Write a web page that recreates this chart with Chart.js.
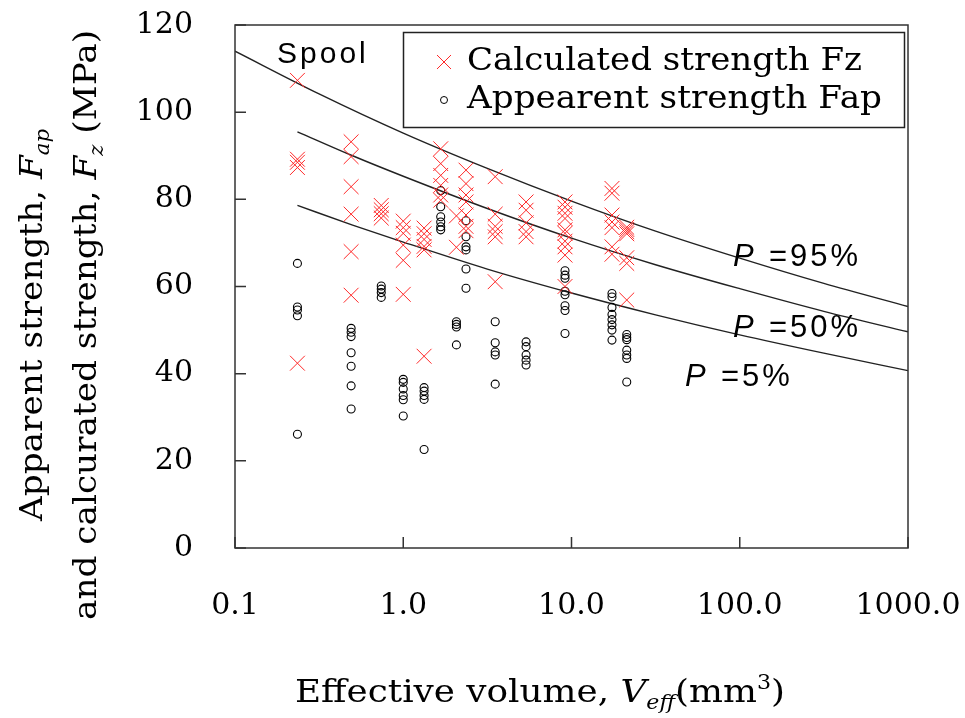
<!DOCTYPE html>
<html lang="en">
<head>
<meta charset="UTF-8">
<title>Strength vs effective volume</title>
<script src="https://cdn.jsdelivr.net/npm/chart.js"></script>
<style>
    html, body { margin: 0; padding: 0; background: #fff; }
    #wrap { width: 965px; height: 718px; }
</style>
</head>
<body>
<div id="wrap"><canvas id="chartCanvas" width="965" height="718"></canvas></div>
<script>
// effective volume of each specimen group (mm3)
const volumes = [0.235, 0.49, 0.74, 1.0, 1.33, 1.67, 2.07, 2.36, 3.52, 5.37, 9.15, 17.4, 21.3];

// calculated strength Fz (MPa), one list per group
const calcStrength = [
    [107.3, 89.2, 88.5, 87.3, 42.4],
    [93.2, 89.8, 82.9, 76.6, 68.0, 58.0],
    [78.6, 77.6, 76.7, 75.7],
    [75.0, 73.5, 72.2, 69.5, 66.0, 58.2],
    [73.4, 72.1, 70.8, 69.2, 68.4, 44.0],
    [91.6, 88.2, 85.5, 83.2, 81.0, 79.8],
    [76.2, 69.0],
    [86.7, 83.6, 81.0, 79.4, 76.4, 73.8, 72.8],
    [85.2, 76.6, 73.8, 72.6, 71.4, 61.1],
    [79.4, 77.5, 74.6, 72.6, 71.4],
    [79.4, 78.2, 76.8, 75.6, 73.0, 72.2, 70.4, 69.1, 67.2, 60.0],
    [82.5, 81.4, 76.4, 74.8, 73.5, 69.1, 67.4],
    [73.6, 73.1, 72.6, 72.1, 66.6, 65.3, 56.9]
];

// apparent strength Fap (MPa), one list per group
const apparentStrength = [
    [65.3, 55.3, 54.6, 53.3, 26.1],
    [50.4, 49.5, 48.5, 44.8, 41.7, 37.2, 31.9],
    [60.1, 59.4, 58.6, 57.5],
    [38.7, 38.0, 36.5, 35.0, 34.0, 30.3],
    [36.8, 36.0, 35.0, 34.1, 22.6],
    [82.0, 78.3, 76.0, 74.8, 73.7, 73.0],
    [51.9, 51.3, 50.7, 46.6],
    [75.1, 71.4, 69.1, 68.4, 64.0, 59.6],
    [51.9, 47.1, 45.0, 44.3, 37.6],
    [47.3, 46.2, 44.3, 43.1, 42.0],
    [63.6, 62.6, 61.9, 58.9, 58.1, 55.6, 54.5, 49.2],
    [58.4, 57.6, 55.2, 53.6, 52.4, 51.2, 50.0, 47.7],
    [49.0, 48.3, 47.8, 45.4, 44.3, 43.5, 38.1]
];

// failure probability lines
const curveVolumes95 = [0.1, 0.316, 1, 3.16, 10, 31.6, 100, 316, 1000];
const curve95 = [114.0, 104.2, 95.2, 87.1, 79.6, 72.7, 66.5, 60.7, 55.4];
const curveVolumes = [0.235, 0.5, 1, 3.16, 10, 31.6, 100, 316, 1000];
const curve50 = [95.5, 90.0, 85.3, 77.9, 71.1, 65.0, 59.5, 54.3, 49.6];
const curve5 = [78.6, 74.1, 70.2, 64.0, 58.5, 53.5, 48.9, 44.7, 40.7];

const xTickValues = [0.1, 1, 10, 100, 1000];
const xTickLabels = ['0.1', '1.0', '10.0', '100.0', '1000.0'];
const yTickValues = [0, 20, 40, 60, 80, 100, 120];

const SERIF = '"DejaVu Serif", serif';
const SANS = '"Liberation Sans", Arial, sans-serif';

function toPoints(xs, groups) {
    const pts = [];
    groups.forEach((list, i) => list.forEach(v => pts.push({ x: xs[i], y: v })));
    return pts;
}
function zip(xs, ys) {
    return xs.map((x, i) => ({ x: x, y: ys[i] }));
}

// draws a list of text runs (italic / subscript / superscript) squeezed to a width
function runFont(run, size) {
    const s = (run.sub || run.sup) ? size * 0.62 : size;
    return (run.italic ? 'italic ' : '') + s + 'px ' + SERIF;
}
function drawRich(ctx, runs, x, y, size, targetWidth, angle) {
    ctx.save();
    let total = 0;
    runs.forEach(r => { ctx.font = runFont(r, size); r.w = ctx.measureText(r.text).width; total += r.w; });
    ctx.translate(x, y);
    if (angle) ctx.rotate(angle);
    ctx.scale(targetWidth / total, 1);
    ctx.fillStyle = '#000';
    ctx.textBaseline = 'alphabetic';
    ctx.textAlign = 'left';
    let cx = -total / 2;
    runs.forEach(r => {
        ctx.font = runFont(r, size);
        const dy = r.sub ? size * 0.22 : (r.sup ? -size * 0.42 : 0);
        ctx.fillText(r.text, cx, dy);
        cx += r.w;
    });
    ctx.restore();
}
function drawFitted(ctx, text, x, y, font, targetWidth) {
    ctx.save();
    ctx.font = font;
    const w = ctx.measureText(text).width;
    ctx.translate(x, y);
    ctx.scale(targetWidth / w, 1);
    ctx.fillStyle = '#000';
    ctx.textAlign = 'left';
    ctx.textBaseline = 'alphabetic';
    ctx.fillText(text, 0, 0);
    ctx.restore();
}
function drawSpaced(ctx, text, x, y, font, spacing) {
    ctx.save();
    ctx.font = font;
    ctx.fillStyle = '#000';
    ctx.textBaseline = 'alphabetic';
    let cx = x;
    for (const ch of text) {
        ctx.fillText(ch, cx, y);
        cx += ctx.measureText(ch).width + spacing;
    }
    ctx.restore();
}

const decorations = {
    id: 'decorations',
    afterDraw(chart) {
        const ctx = chart.ctx;
        const a = chart.chartArea;
        const xs = chart.scales.x, ys = chart.scales.y;
        ctx.save();
        // frame and inward ticks
        ctx.strokeStyle = '#333';
        ctx.lineWidth = 1.5;
        ctx.strokeRect(a.left, a.top, a.right - a.left, a.bottom - a.top);
        ctx.beginPath();
        yTickValues.forEach(v => {
            const py = ys.getPixelForValue(v);
            ctx.moveTo(a.left, py); ctx.lineTo(a.left + 11, py);
        });
        xTickValues.forEach(v => {
            const px = xs.getPixelForValue(v);
            ctx.moveTo(px, a.bottom); ctx.lineTo(px, a.bottom - 11);
        });
        ctx.stroke();

        // legend box
        ctx.fillStyle = '#fff';
        ctx.fillRect(403, 32, 501, 95);
        ctx.strokeStyle = '#222';
        ctx.lineWidth = 1.5;
        ctx.strokeRect(403.5, 32.5, 501, 95);
        ctx.strokeStyle = 'rgb(255,40,40)';
        ctx.lineWidth = 1;
        ctx.beginPath();
        ctx.moveTo(437, 55); ctx.lineTo(451, 69);
        ctx.moveTo(451, 55); ctx.lineTo(437, 69);
        ctx.stroke();
        ctx.strokeStyle = '#000';
        ctx.beginPath();
        ctx.arc(444, 100, 3.5, 0, Math.PI * 2);
        ctx.stroke();
        drawFitted(ctx, 'Calculated strength Fz', 467, 70, '31px ' + SERIF, 395);
        drawFitted(ctx, 'Appearent strength Fap', 467, 108, '31px ' + SERIF, 415);

        // annotations
        drawSpaced(ctx, 'Spool', 277, 63, '30px ' + SANS, 3);
        [['95%', 266, 733], ['50%', 337, 733], ['5%', 386, 685]].forEach(([p, by, lx]) => {
            drawSpaced(ctx, 'P', lx, by, 'italic 31px ' + SANS, 3);
            drawSpaced(ctx, '=' + p, lx + 36, by, '31px ' + SANS, 3);
        });

        // axis titles
        drawRich(ctx, [
            { text: 'Effective volume, ' },
            { text: 'V', italic: true },
            { text: 'eff', italic: true, sub: true },
            { text: '(mm' },
            { text: '3', sup: true },
            { text: ')' }
        ], 540, 702, 32, 490, 0);
        drawRich(ctx, [
            { text: 'Apparent strength, ' },
            { text: 'F', italic: true },
            { text: 'ap', italic: true, sub: true }
        ], 42, 325, 32, 392, -Math.PI / 2);
        drawRich(ctx, [
            { text: 'and calcurated strength, ' },
            { text: 'F', italic: true },
            { text: 'z', italic: true, sub: true },
            { text: ' (MPa)' }
        ], 96, 325, 32, 590, -Math.PI / 2);
        ctx.restore();
    }
};

const lineStyle = {
    type: 'line',
    showLine: true,
    borderColor: '#222',
    borderWidth: 1.4,
    pointRadius: 0,
    fill: false,
    cubicInterpolationMode: 'monotone'
};

new Chart(document.getElementById('chartCanvas'), {
    type: 'scatter',
    data: {
        datasets: [
            {
                label: 'Calculated strength Fz',
                data: toPoints(volumes, calcStrength),
                pointStyle: 'crossRot',
                pointRadius: 10.5,
                borderColor: 'rgb(255,40,40)',
                borderWidth: 1
            },
            {
                label: 'Appearent strength Fap',
                data: toPoints(volumes, apparentStrength),
                pointStyle: 'circle',
                pointRadius: 4,
                borderColor: '#000',
                backgroundColor: 'rgba(0,0,0,0)',
                borderWidth: 1.1
            },
            Object.assign({ label: 'P=95%', data: zip(curveVolumes95, curve95) }, lineStyle),
            Object.assign({ label: 'P=50%', data: zip(curveVolumes, curve50) }, lineStyle),
            Object.assign({ label: 'P=5%', data: zip(curveVolumes, curve5) }, lineStyle)
        ]
    },
    options: {
        responsive: false,
        animation: false,
        layout: { padding: { left: 0, top: 25, right: 57, bottom: 0 } },
        plugins: { legend: { display: false }, tooltip: { enabled: false } },
        scales: {
            x: {
                type: 'logarithmic',
                min: 0.1,
                max: 1000,
                afterBuildTicks: s => { s.ticks = xTickValues.map(v => ({ value: v })); },
                afterFit: s => { s.height = 170; s.paddingLeft = 0; s.paddingRight = 0; },
                grid: { display: false, drawTicks: false },
                border: { display: false },
                ticks: {
                    padding: 40,
                    color: '#000',
                    maxRotation: 0,
                    autoSkip: false,
                    font: { family: SERIF, size: 30 },
                    callback: (v, i) => xTickLabels[i]
                }
            },
            y: {
                min: 0,
                max: 120,
                afterBuildTicks: s => { s.ticks = yTickValues.map(v => ({ value: v })); },
                afterFit: s => { s.width = 235; s.paddingTop = 0; s.paddingBottom = 0; },
                grid: { display: false, drawTicks: false },
                border: { display: false },
                ticks: {
                    padding: 42,
                    color: '#000',
                    font: { family: SERIF, size: 30 }
                }
            }
        }
    },
    plugins: [decorations]
});
</script>
</body>
</html>
